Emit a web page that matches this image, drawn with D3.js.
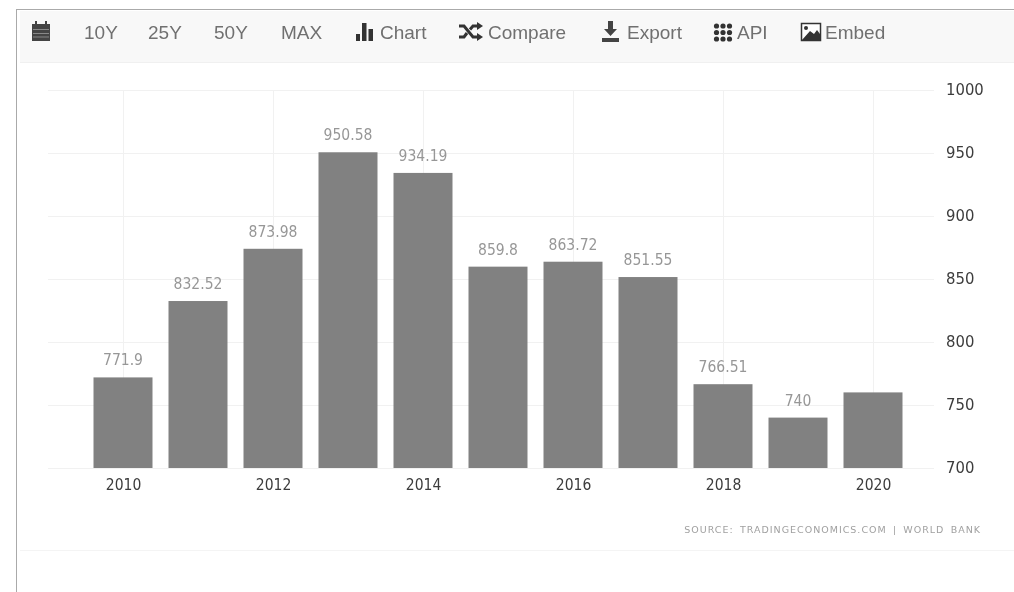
<!DOCTYPE html>
<html>
<head>
<meta charset="utf-8">
<style>
  html, body { margin: 0; padding: 0; background: #fff; }
  svg { display: block; filter: blur(0.55px); }
  .tick-x text, .tick-y text { font-family: "DejaVu Sans Condensed", "DejaVu Sans"; fill: #3c3c3c; }
  .menu { font-family: "Liberation Sans"; font-size: 19px; fill: #707070; }
</style>
<script src="https://cdnjs.cloudflare.com/ajax/libs/d3/7.8.5/d3.min.js"></script>
</head>
<body>
<svg id="chart" width="1014" height="592"></svg>
<script>
var years = [2010, 2011, 2012, 2013, 2014, 2015, 2016, 2017, 2018, 2019, 2020];
var values = [771.9, 832.52, 873.98, 950.58, 934.19, 859.8, 863.72, 851.55, 766.51, 740, 760];
// the last bar has no label in the picture
var barLabels = ["771.9", "832.52", "873.98", "950.58", "934.19", "859.8", "863.72", "851.55", "766.51", "740", ""];
var yTicks = [700, 750, 800, 850, 900, 950, 1000];
var xTicks = [2010, 2012, 2014, 2016, 2018, 2020];
var rangeButtons = ["10Y", "25Y", "50Y", "MAX"];
var menuItems = ["Chart", "Compare", "Export", "API", "Embed"];

var svg = d3.select("#chart");

// page frame + toolbar
svg.append("rect").attr("x", 20).attr("y", 11).attr("width", 994).attr("height", 51).attr("fill", "#f8f8f8");
svg.append("line").attr("x1", 16.5).attr("x2", 1014).attr("y1", 9.5).attr("y2", 9.5).attr("stroke", "#aaa");
svg.append("line").attr("x1", 16.5).attr("x2", 16.5).attr("y1", 9).attr("y2", 592).attr("stroke", "#aaa");
svg.append("line").attr("x1", 20).attr("x2", 1014).attr("y1", 62.5).attr("y2", 62.5).attr("stroke", "#f0f0f0");
svg.append("line").attr("x1", 20).attr("x2", 1014).attr("y1", 550.5).attr("y2", 550.5).attr("stroke", "#f4f4f4");

var rangeX = [84, 148, 214, 281];
rangeButtons.forEach(function(d, i) {
  svg.append("text").attr("class", "menu").attr("x", rangeX[i]).attr("y", 39).text(d);
});

var menuX = [380, 488, 627, 737, 825];
menuItems.forEach(function(d, i) {
  svg.append("text").attr("class", "menu").attr("x", menuX[i]).attr("y", 39).text(d);
});

// toolbar icons
var ic = "#444";
var cal = svg.append("g").attr("fill", ic);
cal.append("rect").attr("x", 32).attr("y", 24).attr("width", 18).attr("height", 17);
cal.append("rect").attr("x", 35).attr("y", 21).attr("width", 2).attr("height", 4);
cal.append("rect").attr("x", 45).attr("y", 21).attr("width", 2).attr("height", 4);
cal.append("path").attr("d", "M33 29.5H49M33 33.5H49M33 37H49").attr("stroke", "#999").attr("stroke-width", 0.8);

var barsIcon = svg.append("g").attr("fill", "#333");
barsIcon.append("rect").attr("x", 356).attr("y", 34).attr("width", 4).attr("height", 7);
barsIcon.append("rect").attr("x", 362).attr("y", 23).attr("width", 4.5).attr("height", 18);
barsIcon.append("rect").attr("x", 368.5).attr("y", 29).attr("width", 4.5).attr("height", 12);

svg.append("path")
  .attr("d", "M459 26H464L473 37H478M459 37H464L467 33M470 29.5L473 26H478")
  .attr("fill", "none").attr("stroke", "#333").attr("stroke-width", 3);
svg.append("path").attr("d", "M477 22L483 26L477 30ZM477 33L483 37L477 41Z").attr("fill", "#333");

svg.append("path")
  .attr("d", "M608 21H613V29H617L610.5 36L604 29H608ZM602 38H619V42H602Z")
  .attr("fill", ic);

var dots = svg.append("g").attr("fill", "#333");
[0, 1, 2].forEach(function(r) {
  [0, 1, 2].forEach(function(c) {
    dots.append("circle").attr("cx", 716.5 + c * 6.5).attr("cy", 26 + r * 6.5).attr("r", 2.6);
  });
});

svg.append("rect").attr("x", 801.5).attr("y", 23.5).attr("width", 19).attr("height", 17).attr("fill", "#fff").attr("stroke", "#333").attr("stroke-width", 1.5);
svg.append("path").attr("d", "M802 40L810 31L814 34L817 30L820 34V40Z").attr("fill", "#333");
svg.append("circle").attr("cx", 806).attr("cy", 28).attr("r", 2).attr("fill", "#333");

// scales: one year = 75px, bottom of chart at y=468
var x = d3.scaleLinear().domain([2010, 2020]).range([123, 873]);
var y = d3.scaleLinear().domain([700, 1000]).range([468, 90]);
var barWidth = 59;

var grid = svg.append("g");
grid.selectAll("line.h").data(yTicks).enter().append("line")
  .attr("class", "h")
  .attr("x1", 48).attr("x2", 934)
  .attr("y1", function(d) { return Math.round(y(d)) + 0.5; })
  .attr("y2", function(d) { return Math.round(y(d)) + 0.5; })
  .attr("stroke", "#f1f1f1");
grid.selectAll("line.v").data(xTicks).enter().append("line")
  .attr("class", "v")
  .attr("x1", function(d) { return x(d) + 0.5; })
  .attr("x2", function(d) { return x(d) + 0.5; })
  .attr("y1", y(1000)).attr("y2", y(700))
  .attr("stroke", "#f1f1f1");

svg.selectAll("rect.bar").data(values).enter().append("rect")
  .attr("class", "bar")
  .attr("x", function(d, i) { return x(years[i]) - barWidth / 2; })
  .attr("y", function(d) { return y(d); })
  .attr("width", barWidth)
  .attr("height", function(d) { return y(700) - y(d); })
  .attr("fill", "#818181");

svg.selectAll("text.val").data(values).enter().append("text")
  .attr("class", "val")
  .attr("x", function(d, i) { return x(years[i]); })
  .attr("y", function(d) { return y(d) - 12; })
  .attr("text-anchor", "middle")
  .attr("font-family", "DejaVu Sans Condensed, DejaVu Sans")
  .attr("font-size", 15.5)
  .attr("fill", "#979797")
  .text(function(d, i) { return barLabels[i]; });

var xAxis = d3.axisBottom(x).tickValues(xTicks).tickFormat(d3.format("d")).tickSize(0).tickPadding(11);
var xG = svg.append("g").attr("class", "tick-x").attr("transform", "translate(0,468)").call(xAxis);
xG.select(".domain").remove();
xG.selectAll("text").attr("font-size", 15.5);

var yAxis = d3.axisRight(y).tickValues(yTicks).tickFormat(d3.format("d")).tickSize(0).tickPadding(0);
var yG = svg.append("g").attr("class", "tick-y").attr("transform", "translate(946,-1)").call(yAxis);
yG.select(".domain").remove();
yG.selectAll("text").attr("font-size", 16.5);

svg.append("text")
  .attr("x", 981).attr("y", 533)
  .attr("text-anchor", "end")
  .attr("font-family", "DejaVu Sans")
  .attr("font-size", 9.5)
  .attr("letter-spacing", 1.0)
  .attr("word-spacing", 2.2)
  .attr("fill", "#a0a0a0")
  .text("SOURCE: TRADINGECONOMICS.COM | WORLD BANK");
</script>
</body>
</html>
